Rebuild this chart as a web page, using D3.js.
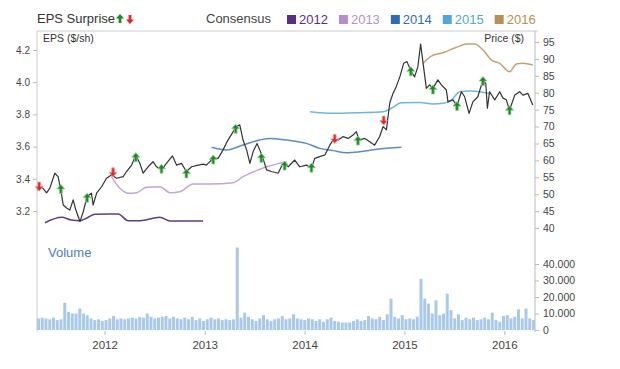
<!DOCTYPE html>
<html lang="en">
<head>
<meta charset="UTF-8">
<title>EPS Surprise and Consensus</title>
<script src="https://d3js.org/d3.v7.min.js"></script>
<style>
  body { margin: 0; background: #fff; }
  svg { font-family: "Liberation Sans", Arial, sans-serif; }
  .axis text { fill: #444; }
  .axis line { stroke: #bbb; }
  .axis path { display: none; }
</style>
</head>
<body>
<svg id="chart" width="620" height="369"></svg>
<script>
// share price ($), right axis
const price = [
  ["2011-04-30",51.2],["2011-05-16",52.2],["2011-06-03",50.4],["2011-06-15",51.8],["2011-07-03",56.2],
  ["2011-07-15",55.2],["2011-07-25",51.2],["2011-08-03",46.8],["2011-08-15",45.9],["2011-08-27",45.3],
  ["2011-09-08",48.3],["2011-09-18",45.3],["2011-10-03",41.9],["2011-10-15",44.8],["2011-10-29",49.3],
  ["2011-11-14",50.3],["2011-11-20",46.8],["2011-12-03",50.3],["2011-12-21",52.2],["2012-01-08",54.7],
  ["2012-01-26",55.7],["2012-02-14",54.7],["2012-03-09",55.2],["2012-03-21",56.7],["2012-04-09",58.6],
  ["2012-04-24",61.6],["2012-05-09",59.1],["2012-05-21",56.2],["2012-06-08",58.1],["2012-06-26",59.6],
  ["2012-07-09",58.1],["2012-07-27",57.2],["2012-08-14",59.1],["2012-09-05",61.3],["2012-09-20",58.6],
  ["2012-10-08",59.1],["2012-10-26",56.7],["2012-11-14",58.1],["2012-12-08",58.6],["2012-12-26",58.9],
  ["2013-01-07",58.6],["2013-02-01",60.6],["2013-02-19",60.6],["2013-03-09",63.1],["2013-03-27",66.0],
  ["2013-04-15",68.5],["2013-04-27",70.0],["2013-05-09",70.5],["2013-05-21",66.0],["2013-06-03",63.1],
  ["2013-06-15",59.1],["2013-06-27",62.6],["2013-07-11",65.0],["2013-07-21",63.1],["2013-08-02",60.6],
  ["2013-08-15",57.2],["2013-09-02",56.7],["2013-09-26",56.2],["2013-10-14",59.1],["2013-11-02",58.1],
  ["2013-11-26",60.1],["2013-12-14",58.1],["2014-01-08",58.6],["2014-01-26",57.7],["2014-02-07",60.6],
  ["2014-02-25",61.1],["2014-03-16",61.6],["2014-04-03",64.5],["2014-04-15",66.0],["2014-05-03",66.0],
  ["2014-05-21",67.0],["2014-06-09",66.5],["2014-06-27",67.5],["2014-07-09",68.5],["2014-07-19",66.0],
  ["2014-08-09",66.5],["2014-08-27",65.5],["2014-09-14",64.5],["2014-10-02",67.0],["2014-10-15",70.0],
  ["2014-10-27",69.0],["2014-11-08",76.9],["2014-11-20",79.8],["2014-12-02",81.8],["2014-12-15",84.7],
  ["2014-12-29",88.7],["2015-01-10",89.2],["2015-01-26",86.2],["2015-02-07",84.7],["2015-02-19",87.7],
  ["2015-03-01",94.4],["2015-03-10",88.7],["2015-03-22",81.3],["2015-04-03",82.3],["2015-04-15",81.3],
  ["2015-05-03",83.8],["2015-05-16",82.3],["2015-06-03",80.8],["2015-06-09",77.3],["2015-06-27",77.9],
  ["2015-07-12",76.1],["2015-07-28",80.3],["2015-08-09",78.8],["2015-08-25",73.9],["2015-09-08",77.3],
  ["2015-09-26",78.8],["2015-10-15",83.8],["2015-10-25",82.8],["2015-10-31",75.4],["2015-11-08",80.3],
  ["2015-11-27",77.9],["2015-12-15",80.3],["2015-12-27",78.4],["2016-01-08",77.9],["2016-01-20",74.9],
  ["2016-02-08",79.3],["2016-02-26",80.3],["2016-03-09",79.3],["2016-03-27",79.8],["2016-04-14",76.4]
];

// consensus EPS ($/sh) per fiscal year, left axis
const consensus2012 = [
  ["2011-05-28",3.127],["2011-07-28",3.161],["2011-09-02",3.144],["2011-10-03",3.14],["2011-10-27",3.155],
  ["2011-11-27",3.18],["2012-02-20",3.181],["2012-03-27",3.14],["2012-05-09",3.14],["2012-07-21",3.161],
  ["2012-08-27",3.138],["2012-12-26",3.138]
];
const consensus2013 = [
  ["2012-01-26",3.413],["2012-02-26",3.341],["2012-03-27",3.31],["2012-04-27",3.314],["2012-06-02",3.347],
  ["2012-07-21",3.351],["2012-08-27",3.314],["2012-10-02",3.32],["2012-11-20",3.368],["2013-01-20",3.368],
  ["2013-04-15",3.376],["2013-05-21",3.413],["2013-07-15",3.455],["2013-08-15",3.475],["2013-10-02",3.496],
  ["2013-10-27",3.506]
];
const consensus2014 = [
  ["2013-01-26",3.596],["2013-03-22",3.579],["2013-05-21",3.61],["2013-07-21",3.641],["2013-08-27",3.651],
  ["2013-10-27",3.641],["2014-01-08",3.62],["2014-02-25",3.589],["2014-04-15",3.575],["2014-06-03",3.562],
  ["2014-07-21",3.568],["2014-09-21",3.583],["2014-12-21",3.596]
];
const consensus2015 = [
  ["2014-01-20",3.817],["2014-04-15",3.807],["2014-07-21",3.811],["2014-10-15",3.817],["2014-11-14",3.838],
  ["2014-12-21",3.873],["2015-02-26",3.874],["2015-04-15",3.865],["2015-05-22",3.869],["2015-06-21",3.889],
  ["2015-07-22",3.941],["2015-08-27",3.945],["2015-10-03",3.941],["2015-11-08",3.93]
];
const consensus2016 = [
  ["2015-03-10",4.117],["2015-04-09",4.162],["2015-05-22",4.183],["2015-07-10",4.217],["2015-08-15",4.237],
  ["2015-09-14",4.237],["2015-10-15",4.2],["2015-11-15",4.137],["2015-12-15",4.117],["2016-01-20",4.065],
  ["2016-02-14",4.113],["2016-03-09",4.117],["2016-04-14",4.107]
];

// EPS surprises: date, price at the report, beat (up) or miss (down)
const surprises = [
  ["2011-05-07",52.4,"down"],["2011-07-25",51.4,"up"],["2011-10-29",48.8,"up"],["2012-02-01",56.6,"down"],
  ["2012-04-24",60.8,"up"],["2012-07-27",57.4,"up"],["2012-10-26",56.0,"up"],["2013-02-01",60.1,"up"],
  ["2013-04-24",69.2,"up"],["2013-07-27",60.6,"up"],["2013-10-20",58.3,"up"],["2014-01-26",57.7,"up"],
  ["2014-04-21",66.5,"down"],["2014-07-15",65.7,"up"],["2014-10-17",71.9,"down"],["2015-01-24",86.2,"up"],
  ["2015-04-15",80.8,"up"],["2015-07-12",75.9,"up"],["2015-10-15",83.3,"up"],["2016-01-20",74.7,"up"]
];

// volume in thousands, two-week buckets from late April 2011 to April 2016
const volumeK = [
  7,7.5,7,6.5,7.5,6,6.5,16.5,11,10, 10,13,10,9,7,6,6.5,5.5,6,7,
  8.5,6.5,7,6.5,7,7.5,7,8,7.5,10, 8,7,7.5,8,8.5,7,8,7,6.5,7.5,
  6.5,8,6,7,5.5,6.5,7.5,6.5,7,6, 6.5,6,6.5,50,7.5,10.5,8,6.5,5.5,7,
  9,6.5,5.5,6.5,7,8.5,6.5,7,9.5,7, 6.5,6,7,6.5,5.5,6.5,5,6.5,7.5,5.5,
  5,4.5,4.5,4.5,5.5,6.5,5.5,6,8.5,7, 6.5,8,6,9.5,19,8,7,9,6.5,7,
  6.5,8,31,19,16,10,18,9,10,22, 12,7,9.5,6,7.5,6.5,7.5,6,6.5,7.5,
  6.5,10.5,6,5,8.5,9,7,8,12.5,7, 13,7,6
];

const epsTicks = [3.2, 3.4, 3.6, 3.8, 4.0, 4.2];
const priceTicks = [40, 45, 50, 55, 60, 65, 70, 75, 80, 85, 90, 95];
const volumeTicks = [0, 10, 20, 30, 40];
const volumeTickLabels = ["0", "10.000", "20.000", "30.000", "40.000"];
const legendYears = ["2012", "2013", "2014", "2015", "2016"];
const legendColors = ["#5b2e84", "#b48fcb", "#2f6db3", "#4fa7da", "#b58f55"];
const lineColors = ["#5e3d86", "#c2a6d6", "#5b8cc6", "#6fb6de", "#c3a273"];

const svg = d3.select('#chart');
const parse = d3.timeParse('%Y-%m-%d');

const x = d3.scaleTime()
    .domain([new Date(2011, 3, 29), new Date(2016, 3, 22)])
    .range([37, 535]);
const yEps = d3.scaleLinear().domain([3.2, 4.2]).range([211, 50]);
const yPrice = d3.scaleLinear().domain([40, 95]).range([228, 42]);
const yVol = d3.scaleLinear().domain([0, 40]).range([330, 264]);
const xVol = d3.scaleBand().domain(d3.range(volumeK.length)).range([37, 535]).paddingInner(0.2);

// frame
svg.append('line').attr('x1', 37).attr('x2', 538).attr('y1', 31).attr('y2', 31).attr('stroke', '#ccc');
svg.append('line').attr('x1', 37).attr('x2', 37).attr('y1', 31).attr('y2', 332).attr('stroke', '#ccc');
svg.append('line').attr('x1', 535).attr('x2', 535).attr('y1', 31).attr('y2', 332).attr('stroke', '#bbb');

// volume bars
svg.append('g').selectAll('rect')
    .data(volumeK)
    .join('rect')
    .attr('x', (d, i) => xVol(i))
    .attr('width', xVol.bandwidth())
    .attr('y', d => yVol(d))
    .attr('height', d => yVol(0) - yVol(d))
    .attr('fill', '#a9c9ea');

svg.append('text')
    .attr('x', 48).attr('y', 257)
    .attr('font-size', '13px').attr('fill', '#4a80b4')
    .text('Volume');

// axes
svg.append('g').attr('class', 'axis')
    .attr('transform', 'translate(37,0)')
    .call(d3.axisLeft(yEps).tickValues(epsTicks).tickFormat(d3.format('.1f')).tickSize(4).tickPadding(3))
    .selectAll('text').attr('font-size', '10px');

svg.append('g').attr('class', 'axis')
    .attr('transform', 'translate(535,0)')
    .call(d3.axisRight(yPrice).tickValues(priceTicks).tickSize(4).tickPadding(4))
    .selectAll('text').attr('font-size', '10.5px');

svg.append('g').attr('class', 'axis')
    .attr('transform', 'translate(535,0)')
    .call(d3.axisRight(yVol).tickValues(volumeTicks).tickFormat((d, i) => volumeTickLabels[i]).tickSize(4).tickPadding(4))
    .selectAll('text').attr('font-size', '10.5px');

svg.append('g').attr('class', 'axis')
    .attr('transform', 'translate(0,331)')
    .call(d3.axisBottom(x).ticks(d3.timeYear.every(1)).tickFormat(d3.timeFormat('%Y')).tickSize(4).tickPadding(6))
    .selectAll('text').attr('font-size', '11.5px');

svg.append('text').attr('x', 43).attr('y', 42)
    .attr('font-size', '10.5px').attr('fill', '#333').text('EPS ($/sh)');
svg.append('text').attr('x', 524).attr('y', 42).attr('text-anchor', 'end')
    .attr('font-size', '10.5px').attr('fill', '#333').text('Price ($)');

// consensus lines
const epsLine = d3.line()
    .x(d => x(parse(d[0])))
    .y(d => yEps(d[1]))
    .curve(d3.curveMonotoneX);

[consensus2012, consensus2013, consensus2014, consensus2015, consensus2016].forEach((series, i) => {
    svg.append('path')
        .datum(series)
        .attr('d', epsLine)
        .attr('fill', 'none')
        .attr('stroke', lineColors[i])
        .attr('stroke-width', 1.5);
});

// price line
const priceLine = d3.line()
    .x(d => x(parse(d[0])))
    .y(d => yPrice(d[1]));

svg.append('path')
    .datum(price)
    .attr('d', priceLine)
    .attr('fill', 'none')
    .attr('stroke', '#333')
    .attr('stroke-width', 1.2)
    .attr('stroke-linejoin', 'round');

// surprise arrows
const upArrow = 'M0,-5L4,-0.5L1.4,-0.5L1.4,4L-1.4,4L-1.4,-0.5L-4,-0.5Z';
const downArrow = 'M0,5L4,0.5L1.4,0.5L1.4,-4L-1.4,-4L-1.4,0.5L-4,0.5Z';

svg.append('g').selectAll('path')
    .data(surprises)
    .join('path')
    .attr('transform', d => `translate(${x(parse(d[0]))},${yPrice(d[1])})`)
    .attr('d', d => d[2] === 'up' ? upArrow : downArrow)
    .attr('fill', d => d[2] === 'up' ? '#1f8a24' : '#e2262c')
    .attr('stroke', d => d[2] === 'up' ? '#8fd08f' : '#f4a0a0')
    .attr('stroke-width', 0.8);

// header
svg.append('text').attr('x', 37).attr('y', 23)
    .attr('font-size', '13px').attr('fill', '#333').text('EPS Surprise');
svg.append('path').attr('transform', 'translate(120,19)').attr('d', upArrow).attr('fill', '#1f8a24');
svg.append('path').attr('transform', 'translate(130,19)').attr('d', downArrow).attr('fill', '#e2262c');

svg.append('text').attr('x', 206).attr('y', 23)
    .attr('font-size', '13px').attr('fill', '#444').text('Consensus');

let lx = 287;
legendYears.forEach((year, i) => {
    svg.append('rect').attr('x', lx).attr('y', 15).attr('width', 9).attr('height', 9)
        .attr('fill', legendColors[i]);
    const t = svg.append('text').attr('x', lx + 12).attr('y', 23.5)
        .attr('font-size', '13px').attr('fill', legendColors[i]).text(year);
    lx += 12 + t.node().getComputedTextLength() + 11;
});
</script>
</body>
</html>
